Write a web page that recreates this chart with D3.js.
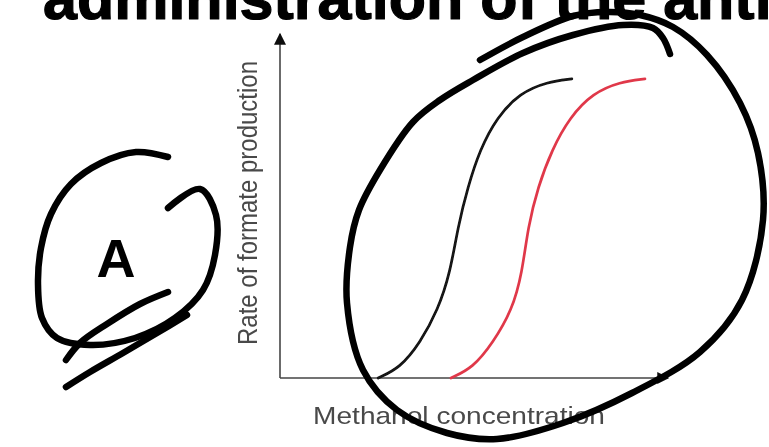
<!DOCTYPE html>
<html>
<head>
<meta charset="utf-8">
<script src="https://cdn.jsdelivr.net/npm/d3@7/dist/d3.min.js"></script>
<style>
  html, body { margin: 0; padding: 0; background: #fff; overflow: hidden; }
  svg { display: block; }
</style>
</head>
<body>
<svg id="chart" width="769" height="447"></svg>
<script>
// Methanol concentration (arbitrary units) and rate of formate production
const concNoAntidote = [2.55, 3.12, 3.64, 4.10, 4.42, 4.62, 4.88, 5.19, 5.64, 6.23, 6.94, 7.58];
const rateNoAntidote = [0.00, 0.30, 1.04, 2.01, 3.11, 4.47, 5.65, 6.75, 7.72, 8.43, 8.76, 8.85];
const concAntidote   = [4.44, 5.01, 5.53, 6.03, 6.29, 6.44, 6.70, 7.06, 7.53, 8.13, 8.83, 9.48];
const rateAntidote   = [0.00, 0.30, 1.04, 2.01, 3.11, 4.47, 5.65, 6.75, 7.72, 8.43, 8.76, 8.85];
const seriesNames  = ["without antidote", "with antidote"];
const seriesColors = ["#121212", "#e0384a"];
const xLabel = "Methanol concentration";
const yLabel = "Rate of formate production";
const heading = "administration of the antidote";
const panelLetter = "A";

const svg = d3.select("#chart");
const sans = "'Liberation Sans', Arial, sans-serif";

const defs = svg.append("defs");
defs.append("filter").attr("id", "soft")
  .attr("x", "-5%").attr("y", "-5%").attr("width", "110%").attr("height", "110%")
  .append("feGaussianBlur").attr("stdDeviation", 0.75);
defs.append("marker").attr("id", "arrow")
  .attr("viewBox", "0 0 10 10").attr("refX", 9).attr("refY", 5)
  .attr("markerUnits", "userSpaceOnUse")
  .attr("markerWidth", 16).attr("markerHeight", 12).attr("orient", "auto")
  .append("path").attr("d", "M0,0 L10,5 L0,10 Z").attr("fill", "#111");

// heading text, running off the top edge
svg.append("text")
  .attr("x", 43).attr("y", 19)
  .attr("font-family", sans)
  .attr("font-weight", 700).attr("font-size", 61)
  .attr("fill", "#000").attr("stroke", "#000").attr("stroke-width", 1.2)
  .attr("stroke-linejoin", "round")
  .text(heading);

const x = d3.scaleLinear().domain([0, 10]).range([280, 665]);
const y = d3.scaleLinear().domain([0, 10]).range([378, 40]);

const plot = svg.append("g").attr("filter", "url(#soft)");

// axes drawn as arrows
plot.append("line")
  .attr("x1", x(0)).attr("y1", y(0)).attr("x2", x(10.08)).attr("y2", y(0))
  .attr("stroke", "#444").attr("stroke-width", 1.6)
  .attr("marker-end", "url(#arrow)");
plot.append("line")
  .attr("x1", x(0)).attr("y1", y(0)).attr("x2", x(0)).attr("y2", y(10.18))
  .attr("stroke", "#444").attr("stroke-width", 1.6)
  .attr("marker-end", "url(#arrow)");

const series = [
  d3.zip(concNoAntidote, rateNoAntidote),
  d3.zip(concAntidote, rateAntidote)
];
const line = d3.line()
  .x(d => x(d[0])).y(d => y(d[1]))
  .curve(d3.curveBasis);

plot.selectAll("path.curve")
  .data(series)
  .join("path")
  .attr("class", "curve")
  .attr("d", line)
  .attr("fill", "none")
  .attr("stroke", (d, i) => seriesColors[i])
  .attr("stroke-width", 2.7)
  .attr("stroke-linecap", "round")
  .append("title").text((d, i) => seriesNames[i]);

// axis titles (the figure is a little wider than tall, so widen the type)
plot.append("text")
  .attr("transform", "translate(459,424) scale(1.17,1)")
  .attr("text-anchor", "middle")
  .attr("font-family", sans)
  .attr("font-size", 24).attr("fill", "#4a4a4a")
  .text(xLabel);

plot.append("text")
  .attr("transform", "translate(257,203) scale(1.12,1) rotate(-90)")
  .attr("text-anchor", "middle")
  .attr("font-family", sans)
  .attr("font-size", 24).attr("fill", "#4a4a4a")
  .text(yLabel);

// hand-drawn marks on top
const pen = d3.line().curve(d3.curveCatmullRom.alpha(0.5));
const penStrokes = [
  // loop around the curves
  [[480,60],[523,37],[573,16],[607,12],[640,15],[673,27],[707,55],[740,103],[758,153],[763,220],
   [742,300],[700,352],[632,393],[563,423],[497,439],[447,433],[397,410],[363,370],[347,303],
   [350,247],[359,210],[380,170],[413,122],[440,100],[473,80],[523,53],[573,35],[623,25],
   [653,28],[663,38],[670,54]],
  // ring around the letter
  [[168,208],[200,189],[216,215],[215,255],[203,290],[175,318],[135,338],[90,345],[57,338],
   [42,318],[38,283],[41,248],[51,214],[71,184],[101,163],[136,152],[168,157]],
  // underline strokes
  [[168,292],[140,304],[107,324],[80,343],[66,360]],
  [[187,315],[157,333],[123,353],[90,372],[66,387]]
];
svg.selectAll("path.pen")
  .data(penStrokes)
  .join("path")
  .attr("class", "pen")
  .attr("d", pen)
  .attr("fill", "none")
  .attr("stroke", "#000")
  .attr("stroke-width", 6.5)
  .attr("stroke-linecap", "round")
  .attr("stroke-linejoin", "round");

svg.append("text")
  .attr("x", 116).attr("y", 277)
  .attr("text-anchor", "middle")
  .attr("font-family", sans)
  .attr("font-weight", 700).attr("font-size", 54)
  .attr("fill", "#000")
  .text(panelLetter);
</script>
</body>
</html>
